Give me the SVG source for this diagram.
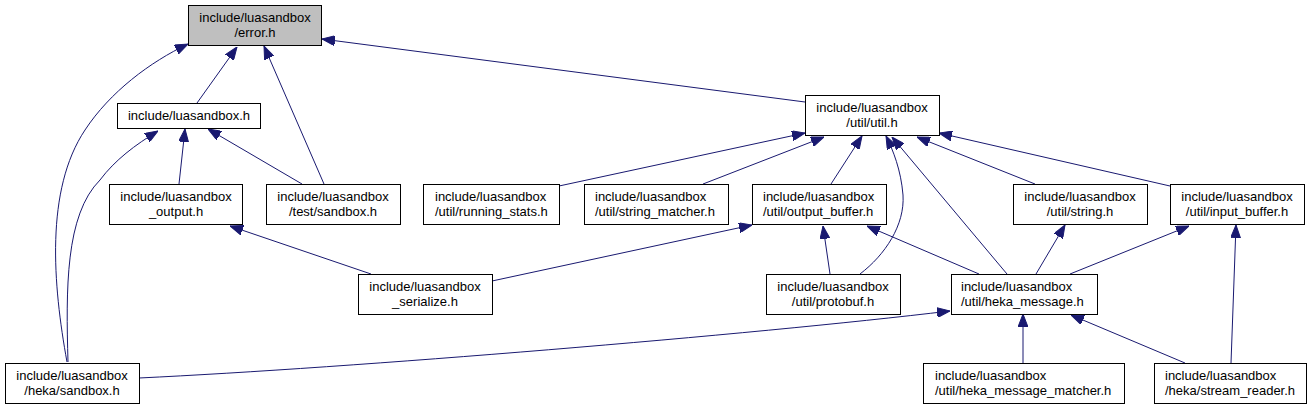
<svg xmlns="http://www.w3.org/2000/svg" width="1312" height="409" viewBox="0 0 1312 409">
<style>
  .node rect { fill: #ffffff; stroke: #000000; stroke-width: 1; }
  .node.root rect { fill: #bfbfbf; }
  .node text { font-family: "Liberation Sans", Arial, sans-serif; font-size: 13px; fill: #000000; }
  .c { text-anchor: middle; }
  .edges path { fill: none; stroke: #191970; stroke-width: 1; marker-end: url(#arrow); }
</style>
<defs>
  <marker id="arrow" markerUnits="userSpaceOnUse" viewBox="0 0 13 10" refX="13" refY="5" markerWidth="13" markerHeight="10" orient="auto">
    <path d="M0,0 L13,5 L0,10 z" fill="#191970" stroke="#191970" stroke-width="1"/>
  </marker>
</defs>
<rect x="0" y="0" width="1312" height="409" fill="#ffffff"/>

<g class="edges" id="edges">
  <path d="M197,103 L237,47"/>
  <path d="M67,362 C53,285 45,190 85,130 C110,92 150,62 188,44"/>
  <path d="M324,184 L264,46"/>
  <path d="M805,102 L322,39"/>
  <path d="M179,184 L185,129"/>
  <path d="M302,184 L208,129"/>
  <path d="M68,362 C66,290 65,215 100,180 C115,160 135,145 158,131"/>
  <path d="M371,274 L230,226"/>
  <path d="M559,186 L805,133"/>
  <path d="M703,184 L824,137"/>
  <path d="M831,184 L862,136"/>
  <path d="M860,274 C885,255 905,225 903,195 C901,170 893,150 886,136"/>
  <path d="M1007,274 L892,137"/>
  <path d="M1035,184 L917,137"/>
  <path d="M1170,186 L939,133"/>
  <path d="M492,281 L752,225"/>
  <path d="M830,274 L823,226"/>
  <path d="M979,274 L867,226"/>
  <path d="M1036,274 L1065,225"/>
  <path d="M1070,274 L1189,226"/>
  <path d="M1231,363 L1236,225"/>
  <path d="M139,378 C350,368 750,335 950,311"/>
  <path d="M1023,363 L1023,314"/>
  <path d="M1185,363 L1071,315"/>
</g>

<g class="node root" id="node-error">
  <rect x="188.5" y="5.5" width="133" height="40"/>
  <text class="c" x="255" y="22">include/luasandbox</text>
  <text class="c" x="255" y="37">/error.h</text>
</g>
<g class="node" id="node-luasandbox">
  <rect x="117.5" y="103.5" width="143" height="25"/>
  <text class="c" x="189" y="120">include/luasandbox.h</text>
</g>
<g class="node" id="node-output">
  <rect x="109.5" y="184.5" width="133" height="40"/>
  <text class="c" x="176" y="201">include/luasandbox</text>
  <text class="c" x="176" y="216">_output.h</text>
</g>
<g class="node" id="node-test-sandbox">
  <rect x="266.5" y="184.5" width="134" height="40"/>
  <text class="c" x="333" y="201">include/luasandbox</text>
  <text class="c" x="333" y="216">/test/sandbox.h</text>
</g>
<g class="node" id="node-running-stats">
  <rect x="423.5" y="184.5" width="136" height="40"/>
  <text x="435" y="201">include/luasandbox</text>
  <text x="435" y="216">/util/running_stats.h</text>
</g>
<g class="node" id="node-string-matcher">
  <rect x="584.5" y="184.5" width="144" height="40"/>
  <text x="595" y="201">include/luasandbox</text>
  <text x="595" y="216">/util/string_matcher.h</text>
</g>
<g class="node" id="node-output-buffer">
  <rect x="752.5" y="184.5" width="134" height="40"/>
  <text x="763" y="201">include/luasandbox</text>
  <text x="763" y="216">/util/output_buffer.h</text>
</g>
<g class="node" id="node-util">
  <rect x="805.5" y="95.5" width="134" height="40"/>
  <text class="c" x="872" y="112">include/luasandbox</text>
  <text class="c" x="872" y="127">/util/util.h</text>
</g>
<g class="node" id="node-string">
  <rect x="1013.5" y="184.5" width="134" height="40"/>
  <text class="c" x="1080" y="201">include/luasandbox</text>
  <text class="c" x="1080" y="216">/util/string.h</text>
</g>
<g class="node" id="node-input-buffer">
  <rect x="1170.5" y="184.5" width="134" height="40"/>
  <text class="c" x="1237" y="201">include/luasandbox</text>
  <text class="c" x="1237" y="216">/util/input_buffer.h</text>
</g>
<g class="node" id="node-serialize">
  <rect x="358.5" y="274.5" width="134" height="40"/>
  <text class="c" x="425" y="291">include/luasandbox</text>
  <text class="c" x="425" y="306">_serialize.h</text>
</g>
<g class="node" id="node-protobuf">
  <rect x="766.5" y="274.5" width="134" height="40"/>
  <text class="c" x="833" y="291">include/luasandbox</text>
  <text class="c" x="833" y="306">/util/protobuf.h</text>
</g>
<g class="node" id="node-heka-message">
  <rect x="951.5" y="274.5" width="146" height="40"/>
  <text x="961" y="291">include/luasandbox</text>
  <text x="961" y="306">/util/heka_message.h</text>
</g>
<g class="node" id="node-heka-sandbox">
  <rect x="5.5" y="363.5" width="134" height="40"/>
  <text class="c" x="72" y="380">include/luasandbox</text>
  <text class="c" x="72" y="395">/heka/sandbox.h</text>
</g>
<g class="node" id="node-heka-message-matcher">
  <rect x="923.5" y="363.5" width="201" height="40"/>
  <text x="935" y="380">include/luasandbox</text>
  <text x="935" y="395">/util/heka_message_matcher.h</text>
</g>
<g class="node" id="node-stream-reader">
  <rect x="1154.5" y="363.5" width="152" height="40"/>
  <text x="1165" y="380">include/luasandbox</text>
  <text x="1165" y="395">/heka/stream_reader.h</text>
</g>
</svg>
